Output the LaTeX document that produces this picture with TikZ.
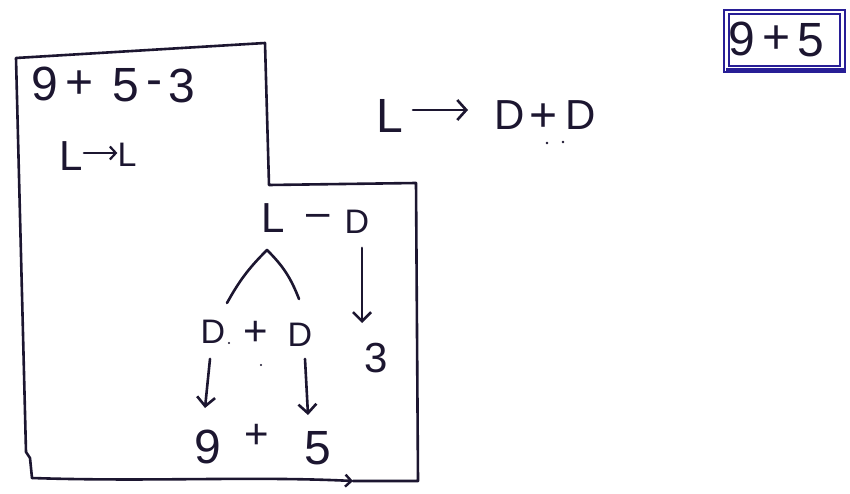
\documentclass[tikz,border=0pt]{standalone}
\usepackage{fontspec}
\setmainfont{Liberation Sans}
\usetikzlibrary{arrows.meta}
\definecolor{ink}{RGB}{28,22,48}
\definecolor{boxink}{RGB}{40,30,150}
\tikzset{
  glyph/.style={inner sep=0pt, text=ink},
  gbig/.style={glyph, font=\fontsize{48}{48}\selectfont},
  gmid/.style={glyph, font=\fontsize{42}{42}\selectfont},
  gsml/.style={glyph, font=\fontsize{34}{34}\selectfont},
  pen/.style={draw=ink, line width=2.6pt, line cap=round, line join=round},
  arr/.style={pen, -{Straight Barb[length=9pt,width=18pt,line width=2.6pt]}},
  dotmark/.style={fill=ink, circle, inner sep=1.3pt},
}
\begin{document}
\begin{tikzpicture}[x=1pt,y=-1pt]
\useasboundingbox (0,0) rectangle (850,494);
\fill[white] (0,0) rectangle (850,494);

% outline
\coordinate (o1) at (16,58);
\coordinate (o2) at (265,43);
\coordinate (o3) at (269,185);
\coordinate (o4) at (416,183);
\coordinate (o5) at (418,481);
\coordinate (o6) at (353,481);
\coordinate (o7) at (32,478);
\coordinate (o8) at (26,452);
\draw[pen] (o6) -- (o5) -- (o4) -- (o3) -- (o2) -- (o1) -- (o8) -- ++(4,6) -- (o7);
\draw[pen, -{Straight Barb[length=6pt,width=12pt,line width=2.4pt]}] (o7) .. controls (150,482) and (250,476) .. (o6);

% top-left expression 9+5-3
\node[gbig] (a9) at (45,84) {9};
\node[gbig] (ap) at (80,85) {+};
\node[gbig] (a5) at (126,85) {5};
\node[gbig] (am) at (154,88) {-};
\node[gbig] (a3) at (182,86) {3};

% L -> L
\node[gmid] (b1) at (71,156) {L};
\node[gsml] (b2) at (127,155) {L};
\draw[pen, -{Straight Barb[length=6pt,width=13pt,line width=2.2pt]}] (84,153) coordinate (b1a) -- (b2.west |- b1a);

% L -> D+D
\node[gbig] (c1) at (390,116) {L};
\node[gmid] (c2) at (510,115) {D};
\node[gbig] (c3) at (544,118) {+};
\node[gmid] (c4) at (581,115) {D};
\draw[pen, -{Straight Barb[length=9pt,width=20pt,line width=2.6pt]}] (413,110) coordinate (c1a) -- (468,110) coordinate (c1b);
\node[dotmark, inner sep=1pt] (cd1) at (547,143) {};
\node[dotmark, inner sep=1pt] (cd2) at (563,142) {};

% boxed 9+5
\node[draw=boxink, line width=2.4pt, minimum width=121pt, minimum height=62pt, inner sep=0pt] (box) at (784.5,41) {};
\draw[boxink, line width=1.6pt] (729,14) rectangle (840,66);
\draw[boxink, line width=3pt] (726,70) -- (844,70);
\node[gbig] (e9) at (742,39) {9};
\node[gbig] (ep) at (777,40) {+};
\node[gbig] (e5) at (811,40) {5};

% tree
\node[gmid] (tL) at (273,218) {L};
\node[gmid] (tm) at (318,220) {–};
\node[gsml] (tD) at (357,222) {D};
\coordinate (apex) at (267,250);
\coordinate (legL) at (227,303);
\coordinate (legR) at (299,299);
\draw[pen] (legL) to[bend left=8] (apex) to[bend left=12] (legR);
\draw[arr] (tD.south) ++(5,14) -- (362,323);
\node[gmid] (t3) at (376,358) {3};

\node[gsml] (d1) at (213,332) {D};
\node[gmid] (dp) at (256,333) {+};
\node[gsml] (d2) at (300,335) {D};
\node[dotmark, inner sep=0.8pt] (dd1) at (229,343) {};
\node[dotmark, inner sep=0.8pt] (dd2) at (261,365) {};

\draw[arr] (d1.south) ++(-3,15) -- (205,408);
\draw[arr] (d2.south) ++(5,12) -- (308,415);

\node[gbig] (f9) at (208,447) {9};
\node[gmid] (fp) at (257,436) {+};
\node[gbig] (f5) at (318,448) {5};
\end{tikzpicture}
\end{document}
